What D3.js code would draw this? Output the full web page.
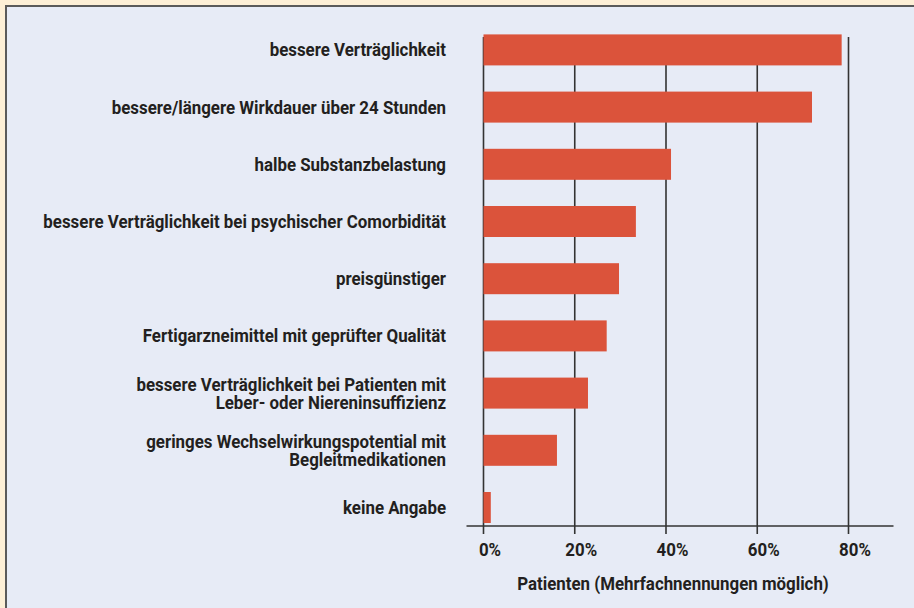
<!DOCTYPE html>
<html>
<head>
<meta charset="utf-8">
<script src="https://cdn.jsdelivr.net/npm/d3@7"></script>
<style>
  body { margin: 0; background: #fdefd6; }
  text { font-family: Roboto, "Liberation Sans", sans-serif; font-weight: bold; fill: #231f20; font-size: 18px; }
</style>
</head>
<body>
<svg id="chart"></svg>
<script>
// categories, top to bottom (line breaks marked with \n)
var categories = [
  "bessere Verträglichkeit",
  "bessere/längere Wirkdauer über 24 Stunden",
  "halbe Substanzbelastung",
  "bessere Verträglichkeit bei psychischer Comorbidität",
  "preisgünstiger",
  "Fertigarzneimittel mit geprüfter Qualität",
  "bessere Verträglichkeit bei Patienten mit\nLeber- oder Niereninsuffizienz",
  "geringes Wechselwirkungspotential mit\nBegleitmedikationen",
  "keine Angabe"
];
// percent of patients
var values = [78.5, 72.0, 41.1, 33.4, 29.7, 27.0, 22.9, 16.1, 1.6];
var tickValues = [0, 20, 40, 60, 80];
var axisTitle = "Patienten (Mehrfachnennungen möglich)";

function init() {
  var w = 914, h = 608;

  var svg = d3.select("#chart")
    .attr("width", w)
    .attr("height", h);

  // panel
  svg.append("rect")
    .attr("x", 6).attr("y", 6)
    .attr("width", w + 10).attr("height", h + 10)
    .attr("fill", "#e7ebf6")
    .attr("stroke", "#5a5a5a")
    .attr("stroke-width", 2);

  // the original uses a condensed face, so squeeze text horizontally
  var probe = svg.append("text").text(categories[3]);
  var sx = 403 / probe.node().getComputedTextLength();
  probe.remove();

  var xScale = d3.scaleLinear()
    .domain([0, 80])
    .range([483.5, 848.5]);

  var yScale = d3.scaleBand()
    .domain(d3.range(categories.length))
    .range([21.3, 536.1])
    .paddingInner(0.458)
    .paddingOuter(0.229);

  var axisY = 526;

  // gridlines
  svg.selectAll("line.grid")
    .data(tickValues)
    .enter()
    .append("line")
    .attr("class", "grid")
    .attr("x1", function(d) { return xScale(d); })
    .attr("x2", function(d) { return xScale(d); })
    .attr("y1", 37)
    .attr("y2", axisY + 8)
    .attr("stroke", "#333")
    .attr("stroke-width", 1.6);

  // bars
  svg.selectAll("rect.bar")
    .data(values)
    .enter()
    .append("rect")
    .attr("class", "bar")
    .attr("x", xScale(0))
    .attr("y", function(d, i) { return yScale(i); })
    .attr("width", function(d) { return xScale(d) - xScale(0); })
    .attr("height", yScale.bandwidth())
    .attr("fill", "#db533b");

  // axis
  var axis = d3.axisBottom(xScale)
    .tickValues(tickValues)
    .tickSize(0)
    .tickPadding(0)
    .tickFormat(function(d) { return d + "%"; });

  var g = svg.append("g")
    .attr("transform", "translate(0," + axisY + ")")
    .call(axis);
  g.select(".domain").remove();
  g.selectAll(".tick text")
    .attr("y", 0)
    .attr("dy", 0)
    .attr("transform", "translate(6,30) scale(" + sx + ",1)");

  svg.append("line")
    .attr("x1", xScale(0) - 17)
    .attr("x2", xScale(80) + 45)
    .attr("y1", axisY).attr("y2", axisY)
    .attr("stroke", "#333")
    .attr("stroke-width", 1.6);

  // category labels
  var lineH = 18;
  var labels = svg.selectAll("text.cat")
    .data(categories)
    .enter()
    .append("text")
    .attr("class", "cat")
    .attr("text-anchor", "end")
    .attr("transform", function(d, i) {
      var n = d.split("\n").length;
      var y = yScale(i) + yScale.bandwidth() / 2 + 6.5 - (n - 1) * lineH / 2;
      return "translate(446," + y + ") scale(" + sx + ",1)";
    });
  labels.each(function(d) {
    var t = d3.select(this);
    d.split("\n").forEach(function(line, k) {
      t.append("tspan")
        .attr("x", 0)
        .attr("dy", k === 0 ? 0 : lineH)
        .text(line);
    });
  });

  svg.append("text")
    .attr("text-anchor", "middle")
    .attr("transform", "translate(" + ((xScale(0) + xScale(80)) / 2 + 7) + ",590) scale(" + sx + ",1)")
    .text(axisTitle);
}

window.onload = init;
</script>
</body>
</html>
